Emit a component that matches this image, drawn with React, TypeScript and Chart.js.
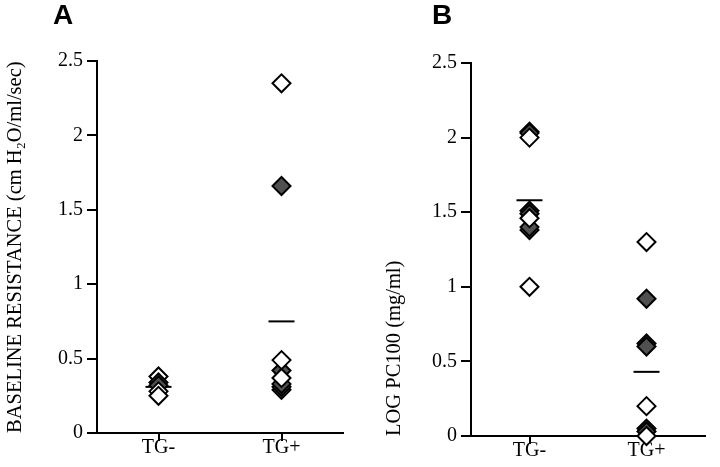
import React, { useEffect, useRef } from 'react';
import { Chart, registerables } from 'chart.js';
Chart.register(...registerables);

// ---------- data ----------
const categories = ['TG-', 'TG+'];
const yTickValues = [0, 0.5, 1, 1.5, 2, 2.5];

// Panel A: baseline resistance (drawing order = array order)
const resistanceNeg = [0.38, 0.34, 0.32, 0.28, 0.25];
const resistanceNegFilled = [false, true, true, false, false];
const resistancePos = [2.35, 1.66, 0.29, 0.31, 0.33, 0.42, 0.37, 0.49];
const resistancePosFilled = [false, true, true, true, true, true, false, false];
const resistanceMeans = [0.31, 0.75];

// Panel B: log PC100
const pc100Neg = [2.04, 2.03, 2.0, 1.38, 1.4, 1.51, 1.49, 1.46, 1.0];
const pc100NegFilled = [true, true, false, true, true, true, true, false, false];
const pc100Pos = [1.3, 0.92, 0.62, 0.6, 0.2, 0.05, 0.03, 0.0];
const pc100PosFilled = [false, true, true, true, false, true, true, false];
const pc100Means = [1.58, 0.43];

// ---------- styles ----------
const SERIF = "'Liberation Serif', 'Times New Roman', serif";
const DARK = '#505050';

type PanelCfg = {
  letter: string;
  letterLeft: number;
  left: number;
  width: number;
  yTitle: string;
  titlePad: number;
  axisWidth: number;
  padRight: number;
  padTop: number;
  xAxisHeight: number;
  neg: number[];
  negFilled: boolean[];
  pos: number[];
  posFilled: boolean[];
  means: number[];
};

function pointsFor(values: number[], catIndex: number) {
  return values.map((v) => ({ x: catIndex + 1, y: v }));
}

function Panel(p: PanelCfg) {
  const ref = useRef<HTMLCanvasElement | null>(null);
  useEffect(() => {
    if (!ref.current) return;
    const fillFor = (flags: boolean[]) => flags.map((f) => (f ? DARK : '#ffffff'));
    const chart = new Chart(ref.current, {
      type: 'scatter',
      data: {
        datasets: [
          {
            data: pointsFor(p.neg, 0),
            pointStyle: 'rectRot',
            pointRadius: 9,
            pointBackgroundColor: fillFor(p.negFilled),
            pointBorderColor: '#000',
            pointBorderWidth: 2,
            clip: false,
          },
          {
            data: pointsFor(p.pos, 1),
            pointStyle: 'rectRot',
            pointRadius: 9,
            pointBackgroundColor: fillFor(p.posFilled),
            pointBorderColor: '#000',
            pointBorderWidth: 2,
            clip: false,
          },
          {
            data: p.means.map((m, i) => ({ x: i + 1, y: m })),
            pointStyle: 'line',
            pointRadius: 13,
            pointBorderColor: '#000',
            pointBorderWidth: 2,
            clip: false,
          },
        ],
      } as any,
      options: {
        animation: false,
        responsive: false,
        events: [],
        layout: { padding: { top: p.padTop, right: p.padRight, left: 0, bottom: 0 } },
        plugins: { legend: { display: false }, tooltip: { enabled: false }, title: { display: false } },
        scales: {
          x: {
            type: 'linear',
            min: 0.5,
            max: 2.5,
            afterBuildTicks: (s: any) => {
              s.ticks = categories.map((_, i) => ({ value: i + 1 }));
            },
            afterFit: (s: any) => {
              s.height = p.xAxisHeight;
            },
            ticks: {
              callback: (v: any) => categories[Math.round(Number(v)) - 1] ?? '',
              color: '#000',
              font: { family: SERIF, size: 20 },
              padding: -5,
              maxRotation: 0,
              autoSkip: false,
            },
            grid: { drawOnChartArea: false, drawTicks: true, tickLength: 8, color: '#000', lineWidth: 2 },
            border: { display: true, color: '#000', width: 2 },
          },
          y: {
            type: 'linear',
            min: 0,
            max: 2.5,
            afterBuildTicks: (s: any) => {
              s.ticks = yTickValues.map((v) => ({ value: v }));
            },
            afterFit: (s: any) => {
              s.width = p.axisWidth;
            },
            ticks: {
              color: '#000',
              font: { family: SERIF, size: 20 },
              padding: 4,
              callback: (v: any) => String(v),
            },
            grid: { drawOnChartArea: false, drawTicks: true, tickLength: 10, color: '#000', lineWidth: 2 },
            border: { display: true, color: '#000', width: 2 },
            title: {
              display: true,
              text: p.yTitle,
              align: 'start',
              color: '#000',
              font: { family: SERIF, size: 20.5 },
              padding: { top: p.titlePad, bottom: 0 },
            },
          },
        },
      } as any,
    });
    return () => chart.destroy();
  }, []);
  return (
    <div style={{ position: 'absolute', left: p.left, top: 0, width: p.width, height: 467 }}>
      <canvas ref={ref} width={p.width} height={467} style={{ width: p.width, height: 467, display: 'block' }} />
      <div
        style={{
          position: 'absolute',
          left: p.letterLeft,
          top: 1,
          font: "bold 28px 'Liberation Sans', Arial, sans-serif",
          lineHeight: 1,
          color: '#000',
        }}
      >
        {p.letter}
      </div>
    </div>
  );
}

export default function App() {
  return (
    <div style={{ position: 'fixed', left: 0, top: 0, width: 720, height: 467, background: '#fff' }}>
      <Panel
        letter="A"
        letterLeft={53}
        left={0}
        width={360}
        yTitle="BASELINE RESISTANCE (cm H₂O/ml/sec)"
        titlePad={3}
        axisWidth={97}
        padRight={17}
        padTop={61}
        xAxisHeight={34}
        neg={resistanceNeg}
        negFilled={resistanceNegFilled}
        pos={resistancePos}
        posFilled={resistancePosFilled}
        means={resistanceMeans}
      />
      <Panel
        letter="B"
        letterLeft={72}
        left={360}
        width={360}
        yTitle="LOG PC100 (mg/ml)"
        titlePad={22}
        axisWidth={111}
        padRight={3}
        padTop={63}
        xAxisHeight={31}
        neg={pc100Neg}
        negFilled={pc100NegFilled}
        pos={pc100Pos}
        posFilled={pc100PosFilled}
        means={pc100Means}
      />
    </div>
  );
}
